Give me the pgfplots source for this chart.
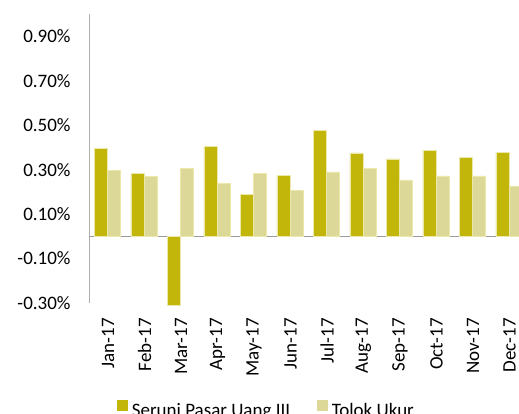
\documentclass[border=0pt]{standalone}
\usepackage{pgfplots}
\pgfplotsset{compat=1.18}
\usepackage{fontspec}
\setmainfont{Carlito}
\definecolor{darkbar}{RGB}{195,182,10}
\definecolor{lightbar}{RGB}{220,216,152}
\definecolor{baredge}{RGB}{236,232,170}
\definecolor{axgray}{RGB}{155,155,155}
\begin{document}
\begin{tikzpicture}[font=\fontsize{19pt}{23pt}\selectfont]
\path[use as bounding box] (0pt,0pt) rectangle (519pt,414pt);
\clip (0pt,0pt) rectangle (519pt,414pt);
\begin{axis}[
  at={(89.25pt,111pt)}, anchor=south west,
  scale only axis, width=438pt, height=289pt,
  ybar=0pt, bar width=13.2pt,
  xmin=-0.5, xmax=11.5, ymin=-0.3, ymax=1.0,
  clip=false,
  axis y line*=left, axis x line*=bottom,
  x axis line style={draw=none},
  y axis line style={draw=axgray!80, line width=1pt},
  tick align=inside,
  ytick={-0.3,-0.1,0.1,0.3,0.5,0.7,0.9},
  yticklabel={\pgfmathprintnumber[fixed,fixed zerofill,precision=2,assume math mode=true]{\tick}\%},
  yticklabel style={inner sep=0pt, anchor=east, xshift=-18.5pt},
  xtick={0,...,11},
  xticklabels={Jan-17,Feb-17,Mar-17,Apr-17,May-17,Jun-17,Jul-17,Aug-17,Sep-17,Oct-17,Nov-17,Dec-17},
  xticklabel style={yshift=-15pt, xshift=0.5pt, rotate=90, anchor=east, inner sep=0pt},
  tick style={draw=none},
  extra y ticks={0},
  extra y tick labels={},
  extra y tick style={grid=major, major grid style={draw=axgray, line width=1.4pt}},
  legend columns=2,
  legend style={at={(axis description cs:0.0627,-0.3676)}, anchor=west, draw=none, fill=none,
    inner sep=0pt, nodes={inner sep=0pt},
    /tikz/every odd column/.append style={column sep=4pt},
    /tikz/every even column/.append style={column sep=26.6pt}},
  legend image code/.code={\fill[#1,draw=none] (0pt,-0.3pt) rectangle (11pt,10.7pt);},
]
\addplot[fill=darkbar, draw=baredge, line width=0.5pt] coordinates {
(0,0.394) (1,0.282) (2,-0.312) (3,0.403) (4,0.190) (5,0.274)
(6,0.478) (7,0.375) (8,0.348) (9,0.388) (10,0.354) (11,0.377)};
\addplot[fill=lightbar, draw=baredge, line width=0.5pt] coordinates {
(0,0.295) (1,0.268) (2,0.307) (3,0.238) (4,0.282) (5,0.208)
(6,0.290) (7,0.307) (8,0.254) (9,0.272) (10,0.272) (11,0.224)};
\legend{Seruni Pasar Uang III, Tolok Ukur}
\end{axis}
\end{tikzpicture}
\end{document}
